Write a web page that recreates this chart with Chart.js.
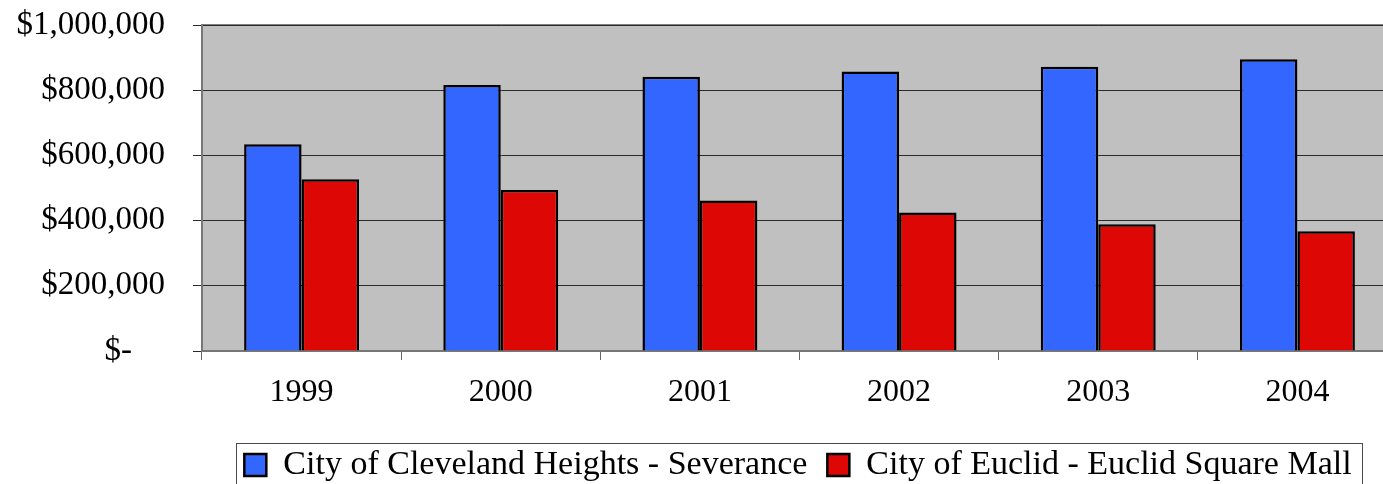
<!DOCTYPE html>
<html>
<head>
<meta charset="utf-8">
<script src="https://cdn.jsdelivr.net/npm/chart.js@4/dist/chart.umd.min.js"></script>
<style>
  html, body { margin: 0; padding: 0; background: #ffffff; overflow: hidden; }
  #wrap { width: 1400px; height: 492px; }
</style>
</head>
<body>
<div id="wrap"><canvas id="chart" width="1400" height="492"></canvas></div>
<script>
// Annual sales tax revenue by shopping centre
const years = ['1999', '2000', '2001', '2002', '2003', '2004'];
const clevelandHeights = [634000, 816000, 841000, 857000, 872000, 895000];
const euclid = [527000, 494000, 462000, 425000, 389000, 367000];
const seriesNames = ['City of Cleveland Heights - Severance', 'City of Euclid - Euclid Square Mall'];
const yTickLabels = ['$-    ', '$200,000', '$400,000', '$600,000', '$800,000', '$1,000,000'];

const SERIF = '"Liberation Serif", "Times New Roman", serif';

// Grey plot background plus the grey top edge of the plot frame
const plotFrame = {
  id: 'plotFrame',
  beforeDraw(chart) {
    const { ctx, chartArea: a } = chart;
    ctx.save();
    ctx.fillStyle = '#c0c0c0';
    ctx.fillRect(a.left, a.top, a.right - a.left, a.bottom - a.top);
    ctx.strokeStyle = '#808080';
    ctx.lineWidth = 2;
    ctx.beginPath();
    ctx.moveTo(a.left, a.top);
    ctx.lineTo(a.right, a.top);
    ctx.stroke();
    ctx.restore();
  }
};

// Legend row is centred on LEGEND_CENTER and gets a thin frame around its items
const LEGEND_CENTER = 798, LEGEND_HALF = 700;
const legendFrame = {
  id: 'legendFrame',
  afterLayout(chart) {
    const lg = chart.legend;
    lg.left = LEGEND_CENTER - LEGEND_HALF;
    lg.right = LEGEND_CENTER + LEGEND_HALF;
    lg.width = 2 * LEGEND_HALF;
  },
  afterDraw(chart) {
    const boxes = chart.legend.legendHitBoxes;
    if (!boxes || !boxes.length) return;
    const first = boxes[0];
    const last = boxes[boxes.length - 1];
    const x0 = Math.round(first.left - 8) + 0.5;
    const x1 = Math.round(last.left + last.width + 10) + 0.5;
    const y0 = Math.round(first.top - 5) + 0.5;
    const y1 = Math.round(first.top + first.height + 5) + 0.5;
    const ctx = chart.ctx;
    ctx.save();
    ctx.strokeStyle = '#4a4a4a';
    ctx.lineWidth = 1;
    ctx.strokeRect(x0, y0, x1 - x0, y1 - y0);
    ctx.restore();
  }
};

new Chart(document.getElementById('chart'), {
  type: 'bar',
  data: {
    labels: years,
    datasets: [
      {
        label: seriesNames[0],
        data: clevelandHeights,
        backgroundColor: '#3366ff',
        borderColor: '#000000',
        borderWidth: 2.5
      },
      {
        label: seriesNames[1],
        data: euclid,
        backgroundColor: '#dd0806',
        borderColor: '#000000',
        borderWidth: 2.5
      }
    ]
  },
  options: {
    responsive: false,
    animation: false,
    layout: { padding: { top: 25, right: 3, left: 0, bottom: 0 } },
    datasets: {
      bar: { categoryPercentage: 0.577, barPercentage: 1.0 }
    },
    scales: {
      x: {
        grid: {
          offset: true,
          drawOnChartArea: false,
          drawTicks: true,
          tickLength: 9,
          color: '#666666',
          lineWidth: 1
        },
        border: { color: '#777777', width: 2 },
        ticks: {
          color: '#000000',
          font: { family: SERIF, size: 32 },
          padding: 13,
          maxRotation: 0,
          autoSkip: false
        },
        afterFit(scale) {
          scale.height = 77;
          scale.paddingLeft = 0;
          scale.paddingRight = 0;
        }
      },
      y: {
        min: 0,
        max: 1000000,
        ticks: {
          stepSize: 200000,
          color: '#000000',
          font: { family: SERIF, size: 33 },
          padding: 28,
          callback: (value, index) => yTickLabels[index]
        },
        grid: {
          color: '#2a2a2a',
          lineWidth: 1,
          tickLength: 9,
          drawTicks: true
        },
        border: { color: '#777777', width: 2 },
        afterFit(scale) {
          scale.width = 202;
          scale.paddingTop = 0;
          scale.paddingBottom = 0;
        }
      }
    },
    plugins: {
      legend: {
        position: 'bottom',
        fullSize: true,
        labels: {
          color: '#000000',
          font: { family: SERIF, size: 34 },
          boxWidth: 22,
          boxHeight: 22,
          padding: 20
        }
      },
      tooltip: { enabled: false }
    }
  },
  plugins: [plotFrame, legendFrame]
});
</script>
</body>
</html>
